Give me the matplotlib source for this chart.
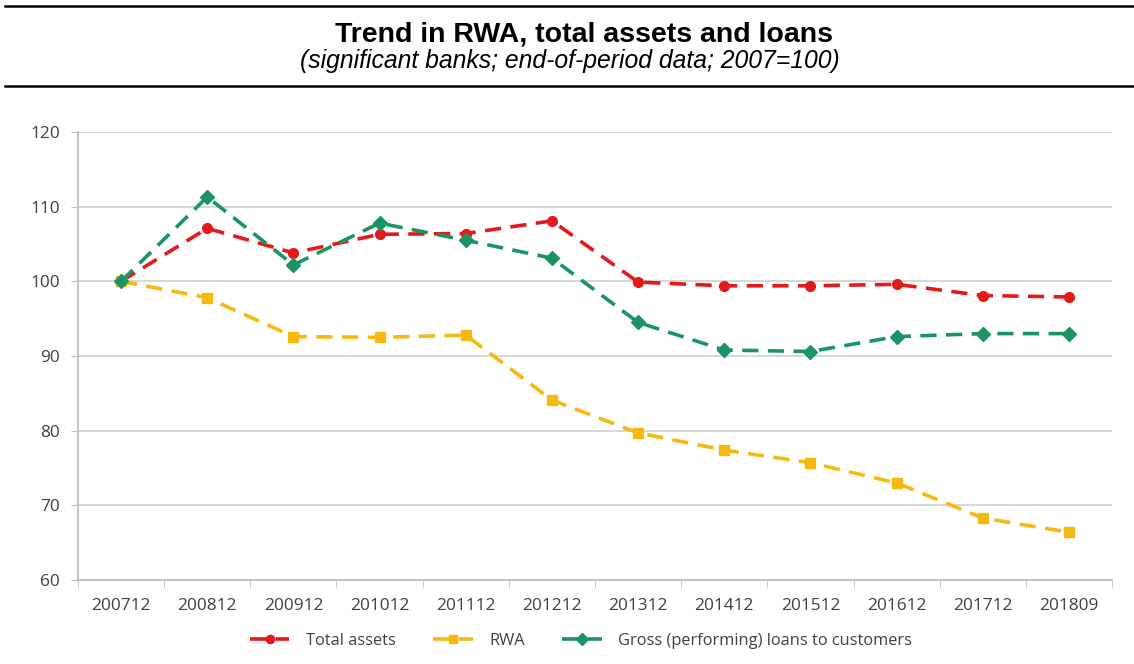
import matplotlib
matplotlib.use("Agg")
import matplotlib.pyplot as plt
from matplotlib.lines import Line2D
import numpy as np

categories = ["200712", "200812", "200912", "201012", "201112", "201212",
              "201312", "201412", "201512", "201612", "201712", "201809"]
total_assets = [100.0, 107.1, 103.8, 106.3, 106.4, 108.1, 99.9, 99.4, 99.4, 99.6, 98.1, 97.9]
rwa = [100.0, 97.8, 92.6, 92.5, 92.8, 84.1, 79.7, 77.4, 75.7, 73.0, 68.3, 66.4]
loans = [100.0, 111.3, 102.2, 107.8, 105.5, 103.1, 94.5, 90.8, 90.6, 92.6, 93.0, 93.0]
yticks = [60, 70, 80, 90, 100, 110, 120]

series = [
    ("Total assets", total_assets, "#E3191C", "o", 7),
    ("RWA", rwa, "#F6B90F", "s", 6.5),
    ("Gross (performing) loans to customers", loans, "#1B9463", "D", 7),
]

fig = plt.figure(figsize=(11.34, 6.64), dpi=100)
W, H = 1134, 664

# rules
for yy in (6, 86):
    fig.add_artist(Line2D([5 / W, 1.0], [1 - yy / H, 1 - yy / H], color="black", lw=1.8))

fig.text(584 / W, 1 - 34 / H, "Trend in RWA, total assets and loans", ha="center", va="center",
         fontsize=20.5, fontweight="bold", family="Liberation Sans")
fig.text(570 / W, 1 - 61 / H, "(significant banks; end-of-period data; 2007=100)", ha="center",
         va="center", fontsize=17.8, style="italic", family="Liberation Sans")

ax = fig.add_axes([78 / W, 1 - 580 / H, (1112 - 78) / W, (580 - 132) / H])
x = np.arange(len(categories))
for name, vals, col, mk, ms in series:
    ax.plot(x, vals, color=col, lw=2.6, ls=(0, (4.5, 2.6)), marker=mk, markersize=ms,
            markeredgecolor=col, label=name)

ax.set_xlim(-0.5, len(categories) - 0.5)
ax.set_ylim(60, 120)
ax.set_yticks(yticks)
ax.set_xticks(x)
ax.set_xticklabels(categories)
ax.set_xticks(np.arange(-0.5, len(categories)), minor=True)
ax.tick_params(axis="x", which="major", length=0, pad=13, labelsize=12.4, labelcolor="#404040")
ax.tick_params(axis="x", which="minor", length=5, color="#bfbfbf", direction="out")
ax.tick_params(axis="y", length=5, color="#bfbfbf", pad=8, labelsize=12.4, labelcolor="#404040")
for lab in ax.get_xticklabels() + ax.get_yticklabels():
    lab.set_family("Open Sans")
ax.grid(axis="y", color="#d4d4d4", lw=1.3)
ax.set_axisbelow(True)
for s in ("top", "right"):
    ax.spines[s].set_visible(False)
for s in ("left", "bottom"):
    ax.spines[s].set_color("#bfbfbf")
    ax.spines[s].set_linewidth(1.3)

leg = fig.legend(loc="center", bbox_to_anchor=(581 / W, 1 - 641 / H), ncol=3, frameon=False,
                 prop={"family": "Open Sans", "size": 11.8}, handlelength=2.4, columnspacing=2.3,
                 handletextpad=1.0, markerscale=0.85)
for t in leg.get_texts():
    t.set_color("#404040")

fig.savefig("out.png", dpi=100)
